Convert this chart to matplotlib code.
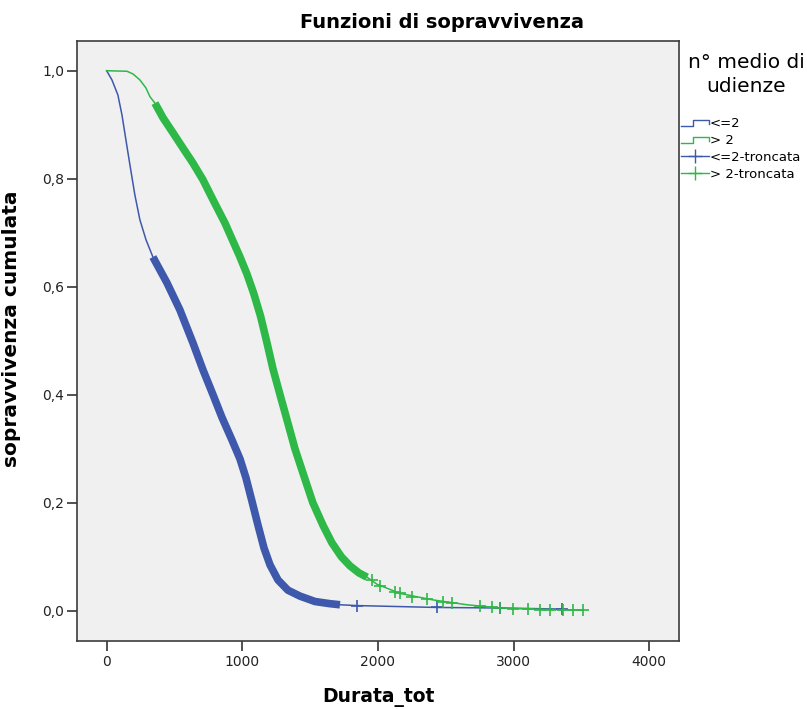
import numpy as np
import matplotlib
matplotlib.use("Agg")
import matplotlib.pyplot as plt
from matplotlib.lines import Line2D
from matplotlib.legend_handler import HandlerBase
from matplotlib.ticker import FuncFormatter

# curva <=2 (tempo, sopravvivenza)
tempo_le2 = [0, 39, 83, 113, 142, 172, 208, 245, 290, 341, 445, 540, 636, 710,
             784, 850, 924, 983, 1027, 1071, 1115, 1160, 1204, 1263, 1336,
             1425, 1536, 1646, 1720, 1844, 2434, 2900, 3357]
surv_le2 = [1.0, 0.983, 0.955, 0.918, 0.872, 0.825, 0.770, 0.724, 0.687, 0.655,
            0.607, 0.557, 0.496, 0.446, 0.400, 0.358, 0.316, 0.281, 0.246,
            0.203, 0.159, 0.116, 0.085, 0.057, 0.038, 0.027, 0.017, 0.013,
            0.011, 0.0095, 0.006, 0.005, 0.003]
banda_le2 = (341, 1720)  # zona con censure fitte

# curva > 2
tempo_gt2 = [0, 150, 194, 245, 290, 319, 356, 415, 489, 562, 636, 710, 784, 872,
             983, 1035, 1085, 1135, 1182, 1226, 1278, 1330, 1388, 1455, 1520,
             1595, 1660, 1730, 1794, 1860, 1920, 1993, 2162, 2405, 2656, 2900,
             3143, 3512]
surv_gt2 = [1.0, 0.999, 0.994, 0.983, 0.968, 0.952, 0.940, 0.913, 0.885, 0.857,
            0.829, 0.798, 0.761, 0.718, 0.655, 0.623, 0.587, 0.545, 0.496,
            0.448, 0.400, 0.353, 0.300, 0.249, 0.200, 0.158, 0.126, 0.100,
            0.083, 0.070, 0.062, 0.049, 0.032, 0.020, 0.011, 0.005, 0.003, 0.001]
banda_gt2 = (356, 1920)

# censure sparse in coda
cens_le2_t = [1844, 2434, 2900, 3357]
cens_le2_s = [0.0095, 0.006, 0.005, 0.003]
cens_gt2_t = [1955, 2014, 2125, 2162, 2250, 2361, 2479, 2545, 2752, 2841, 2900,
              2996, 3107, 3194, 3268, 3364, 3438, 3512]
cens_gt2_s = [0.056, 0.046, 0.035, 0.032, 0.026, 0.022, 0.017, 0.014, 0.008,
              0.006, 0.005, 0.004, 0.003, 0.002, 0.002, 0.002, 0.001, 0.001]

blu = "#3e58ac"
verde = "#2eb848"


class StepHandler(HandlerBase):
    def create_artists(self, legend, orig_handle, xdescent, ydescent,
                       width, height, fontsize, trans):
        x0 = -xdescent
        y0 = -ydescent
        xs = [x0, x0 + 0.45 * width, x0 + 0.45 * width, x0 + width, x0 + width]
        ys = [y0 + 0.1 * height, y0 + 0.1 * height, y0 + 0.8 * height,
              y0 + 0.8 * height, y0 + 0.35 * height]
        ln = Line2D(xs, ys, color=orig_handle.get_color(), lw=1.0,
                    transform=trans)
        return [ln]


fig = plt.figure(figsize=(8.07, 7.09), dpi=100)
ax = fig.add_axes([0.0950, 0.0963, 0.7467, 0.8463])
ax.set_facecolor("#f0f0f0")

for t, s, banda, col in [(tempo_le2, surv_le2, banda_le2, blu),
                         (tempo_gt2, surv_gt2, banda_gt2, verde)]:
    t = np.array(t)
    s = np.array(s)
    ax.plot(t, s, color=col, lw=1.1, zorder=3)
    m = (t >= banda[0]) & (t <= banda[1])
    ax.plot(t[m], s[m], color=col, lw=5.5, solid_capstyle="butt",
            solid_joinstyle="round", zorder=3)

ax.plot(cens_le2_t, cens_le2_s, ls="none", marker="+", ms=8, mew=1.2,
        color=blu, zorder=4)
ax.plot(cens_gt2_t, cens_gt2_s, ls="none", marker="+", ms=8, mew=1.2,
        color=verde, zorder=4)

ax.set_xlim(-221, 4221)
ax.set_ylim(-0.0556, 1.0556)
ax.set_xticks([0, 1000, 2000, 3000, 4000])
ax.set_yticks([0.0, 0.2, 0.4, 0.6, 0.8, 1.0])
ax.yaxis.set_major_formatter(FuncFormatter(lambda v, p: f"{v:.1f}".replace(".", ",")))
ax.tick_params(direction="out", length=7.5, width=1.1, pad=1.5,
               labelsize=10, color="#222222", labelcolor="#222222")
ax.tick_params(axis="x", pad=2.5)
for sp in ax.spines.values():
    sp.set_color("#3c3c3c")
    sp.set_linewidth(1.2)

ax.set_xlabel("Durata_tot", fontsize=13.5, fontweight="bold")
ax.xaxis.set_label_coords(0.5, -0.0788)
ax.set_ylabel("sopravvivenza cumulata", fontsize=14.5, fontweight="bold")
ax.yaxis.set_label_coords(-0.0924, 0.52)

fig.text(442 / 807, 1 - 28 / 709, "Funzioni di sopravvivenza", ha="center",
         va="baseline", fontsize=14, fontweight="bold")

# titolo della legenda
fig.text(746 / 807, 1 - 53 / 709, "n° medio di\nudienze", ha="center",
         va="top", multialignment="center", fontsize=14.5, linespacing=1.3)

h1 = Line2D([], [], color=blu)
h2 = Line2D([], [], color=verde)
h3 = Line2D([], [], color=blu, marker="+", ms=10, mew=1.0, lw=1.0)
h4 = Line2D([], [], color=verde, marker="+", ms=10, mew=1.0, lw=1.0)
leg = fig.legend([h1, h2, h3, h4], ["<=2", "> 2", "<=2-troncata", "> 2-troncata"],
                 loc="upper left", bbox_to_anchor=(681 / 807, 1 - 117 / 709),
                 frameon=False, borderpad=0, borderaxespad=0, fontsize=9.5,
                 handlelength=2.1, handletextpad=0.1, labelspacing=0.3,
                 handler_map={h1: StepHandler(), h2: StepHandler()})

fig.savefig("out.png", dpi=100)
